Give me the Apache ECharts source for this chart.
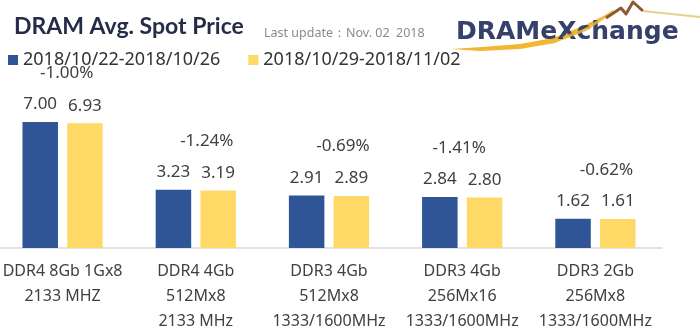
<!DOCTYPE html>
<html><head><meta charset="utf-8">
<script src="https://cdn.jsdelivr.net/npm/echarts@6/dist/echarts.min.js"></script>
<style>html,body{margin:0;padding:0;background:#fff}#chart{width:700px;height:334px}</style>
</head><body><div id="chart"></div>
<script>
// Weekly DRAM spot prices (USD) per part
const categories = [
  'DDR4 8Gb 1Gx8\n2133 MHZ',
  'DDR4 4Gb\n512Mx8\n2133 MHz',
  'DDR3 4Gb\n512Mx8\n1333/1600MHz',
  'DDR3 4Gb\n256Mx16\n1333/1600MHz',
  'DDR3 2Gb\n256Mx8\n1333/1600MHz'
];
const weekNames = ['2018/10/22-2018/10/26', '2018/10/29-2018/11/02'];
const prevWeek = [7.00, 3.23, 2.91, 2.84, 1.62];
const thisWeek = [6.93, 3.19, 2.89, 2.80, 1.61];
const changePct = [-1.00, -1.24, -0.69, -1.41, -0.62];

// horizontal nudges for the change labels (px)
const pctShift = [4, 11, 14, -3, 11];

const FONT = '"Noto Sans", "Open Sans", sans-serif';
const BLUE = '#2f5597';
const YELLOW = '#ffd966';
const TEXT = '#404040';

const chart = echarts.init(document.getElementById('chart'), null, { renderer: 'canvas' });

const valueLabel = {
  show: true, position: 'top', distance: 9,
  color: TEXT, fontFamily: FONT, fontSize: 17,
  formatter: p => p.value.toFixed(2)
};

chart.setOption({
  animation: false,
  backgroundColor: '#fff',
  title: [
    { text: 'DRAM Avg. Spot Price', left: 9, top: 10,
      textStyle: { fontFamily: 'Lato, "Open Sans", sans-serif', fontWeight: 'bold', fontSize: 23, color: '#252c48' } },
    { text: 'Last update：Nov. 02  2018', left: 259, top: 22,
      textStyle: { fontFamily: FONT, fontWeight: 'normal', fontSize: 12.5, color: '#8a8a8a' } }
  ],
  legend: {
    data: weekNames, left: 3, top: 46, icon: 'rect', itemWidth: 10, itemHeight: 10, itemGap: 28,
    textStyle: { fontFamily: FONT, fontSize: 18, color: '#333' }
  },
  grid: { left: -4, right: 38, top: 104, bottom: 86, outerBoundsMode: 'none', containLabel: false },
  xAxis: {
    type: 'category', data: categories,
    axisLine: { lineStyle: { color: '#d9d9d9', width: 1.5 } },
    axisTick: { show: false },
    axisLabel: { color: TEXT, fontFamily: FONT, fontSize: 16, lineHeight: 25, margin: 11, interval: 0 }
  },
  yAxis: { type: 'value', min: 0, max: 8, show: false, splitLine: { show: false } },
  series: [
    { name: weekNames[0], type: 'bar', data: prevWeek, barWidth: 35.5, barGap: '26%',
      itemStyle: { color: BLUE }, label: valueLabel },
    { name: weekNames[1], type: 'bar', data: thisWeek, barWidth: 35.5,
      itemStyle: { color: YELLOW }, label: valueLabel },
    { name: 'change', type: 'custom',
      data: changePct.map((c, i) => [i, Math.max(prevWeek[i], thisWeek[i]), c]),
      encode: { x: 0, y: 1 },
      renderItem(params, api) {
        const i = api.value(0);
        const p = api.coord([i, api.value(1)]);
        return {
          type: 'text', x: p[0] + pctShift[i], y: p[1] - 49,
          style: { text: api.value(2).toFixed(2) + '%', fill: TEXT, fontFamily: FONT, fontSize: 17,
                   align: 'center', verticalAlign: 'middle' }
        };
      }
    }
  ],
  graphic: {
    elements: [
      // DRAMeXchange logo: gold swoosh, lettering, price zigzag
      { type: 'polygon', z: 100,
        shape: { points: [[451, 49], [480, 51], [520, 49], [555, 43], [585, 30], [614, 11],
                          [583, 26], [553, 38], [520, 44], [482, 47]] },
        style: { fill: '#f2b632' } },
      { type: 'text', x: 456, y: 20, z: 101,
        style: { text: 'DRAMeXchange', fill: '#35406b', font: 'bold 25px "DejaVu Sans", sans-serif' } },
      { type: 'polyline', z: 102,
        shape: { points: [[563, 38], [585, 30], [614, 11]] },
        style: { stroke: '#f2b632', lineWidth: 3, fill: null, opacity: 0.8 } },
      { type: 'polyline', z: 103,
        shape: { points: [[606, 18], [621, 8], [626, 14], [633, 2], [643, 11]] },
        style: { stroke: '#8c5b2e', lineWidth: 3, fill: null, lineJoin: 'round' } },
      { type: 'polyline', z: 103,
        shape: { points: [[643, 11], [700, 17]] },
        style: { stroke: '#e8cf8f', lineWidth: 2, fill: null } }
    ]
  }
});
</script>
</body></html>
